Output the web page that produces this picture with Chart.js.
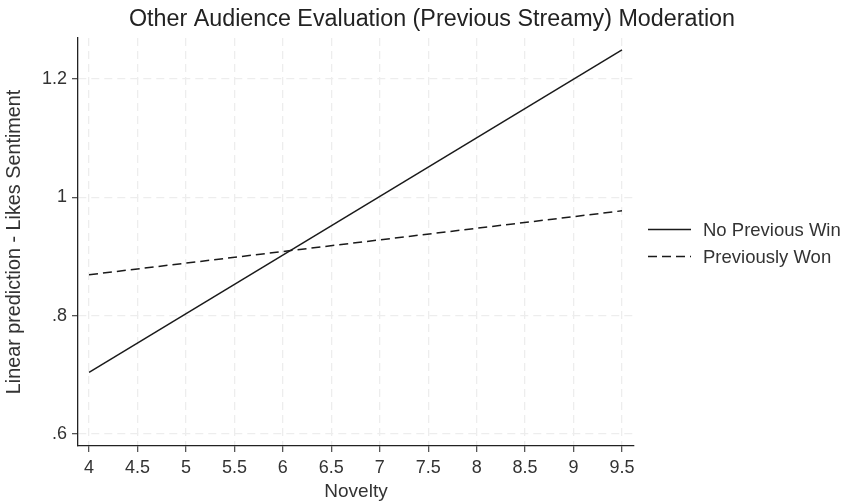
<!DOCTYPE html>
<html>
<head>
<meta charset="utf-8">
<script src="https://cdn.jsdelivr.net/npm/chart.js@4.4.1/dist/chart.umd.min.js"></script>
<style>
  html, body { margin: 0; padding: 0; background: #fff; }
  #wrap { width: 844px; height: 502px; }
</style>
</head>
<body>
<div id="wrap"><canvas id="marginsChart"></canvas></div>
<script>
// data
const noveltyPoints = [4, 9.5];
const noPreviousWin = [0.704, 1.249];
const previouslyWon = [0.869, 0.977];
const xTicks = [4, 4.5, 5, 5.5, 6, 6.5, 7, 7.5, 8, 8.5, 9, 9.5];
const yTicks = [0.6, 0.8, 1, 1.2];
const seriesLabels = ['No Previous Win', 'Previously Won'];

const fontFamily = '"Liberation Sans", Arial, sans-serif';

function toPoints(xs, ys) {
    return xs.map((x, i) => ({ x: x, y: ys[i] }));
}

// legend drawn to the right of the plot, Stata style
const sideLegend = {
    id: 'sideLegend',
    afterDraw(chart) {
        const ctx = chart.ctx;
        const area = chart.chartArea;
        const mid = (area.top + area.bottom) / 2;
        ctx.save();
        ctx.font = '18.5px ' + fontFamily;
        ctx.textBaseline = 'middle';
        chart.data.datasets.forEach((ds, i) => {
            const y = mid - 12.5 + i * 27;
            ctx.strokeStyle = ds.borderColor;
            ctx.lineWidth = ds.borderWidth;
            ctx.setLineDash(ds.borderDash || []);
            ctx.beginPath();
            ctx.moveTo(area.right + 14, y);
            ctx.lineTo(area.right + 57, y);
            ctx.stroke();
            ctx.setLineDash([]);
            ctx.fillStyle = '#333';
            ctx.fillText(ds.label, area.right + 69, y + 1);
        });
        ctx.restore();
    }
};

const gridStyle = {
    color: '#ededed',
    lineWidth: 1.3,
    tickLength: 6,
    tickColor: '#555',
    tickWidth: 1.3
};

const ctx = document.getElementById('marginsChart').getContext('2d');

const marginsChart = new Chart(ctx, {
    type: 'line',
    data: {
        datasets: [{
            label: seriesLabels[0],
            data: toPoints(noveltyPoints, noPreviousWin),
            borderColor: '#1a1a1a',
            borderWidth: 1.5,
            pointRadius: 0,
        },
        {
            label: seriesLabels[1],
            data: toPoints(noveltyPoints, previouslyWon),
            borderColor: '#1a1a1a',
            borderWidth: 1.5,
            borderDash: [9, 5],
            pointRadius: 0,
        }]
    },
    options: {
        responsive: true,
        maintainAspectRatio: false,
        animation: false,
        layout: { padding: { left: 20, right: 0, top: 0, bottom: 0 } },
        plugins: {
            legend: { display: false },
            tooltip: { enabled: false },
            title: {
                display: true,
                text: 'Other Audience Evaluation (Previous Streamy) Moderation',
                color: '#222',
                font: { family: fontFamily, size: 23.3, weight: 'normal' },
                padding: { top: 6, bottom: 4 }
            }
        },
        scales: {
            x: {
                type: 'linear',
                min: 3.886,
                max: 9.624,
                afterBuildTicks(scale) {
                    scale.ticks = xTicks.map(v => ({ value: v }));
                },
                afterFit(scale) { scale.height = 56; },
                ticks: {
                    color: '#333',
                    font: { family: fontFamily, size: 18 },
                    padding: 5,
                    maxRotation: 0,
                    autoSkip: false,
                    callback: v => String(v)
                },
                grid: gridStyle,
                border: { color: '#222', width: 1.3, dash: [8, 5] },
                title: {
                    display: true,
                    text: 'Novelty',
                    color: '#333',
                    font: { family: fontFamily, size: 19 },
                    padding: { top: 0, bottom: -1 }
                }
            },
            y: {
                min: 0.5797,
                max: 1.269,
                afterBuildTicks(scale) {
                    scale.ticks = yTicks.map(v => ({ value: v }));
                },
                afterFit(scale) { scale.width = 58; },
                ticks: {
                    color: '#333',
                    font: { family: fontFamily, size: 18 },
                    padding: 5,
                    callback: v => String(v).replace(/^0\./, '.')
                },
                grid: gridStyle,
                border: { color: '#222', width: 1.3, dash: [8, 5] },
                title: {
                    display: true,
                    text: 'Linear prediction - Likes Sentiment',
                    color: '#333',
                    font: { family: fontFamily, size: 19.8 },
                    padding: { top: -17, bottom: 0 }
                }
            },
            // empty box on the right that leaves room for the legend
            legendSpace: {
                type: 'linear',
                position: 'right',
                afterFit(scale) { scale.width = 210; },
                ticks: { display: false },
                grid: { display: false },
                border: { display: false }
            }
        }
    },
    plugins: [sideLegend]
});
</script>
</body>
</html>
